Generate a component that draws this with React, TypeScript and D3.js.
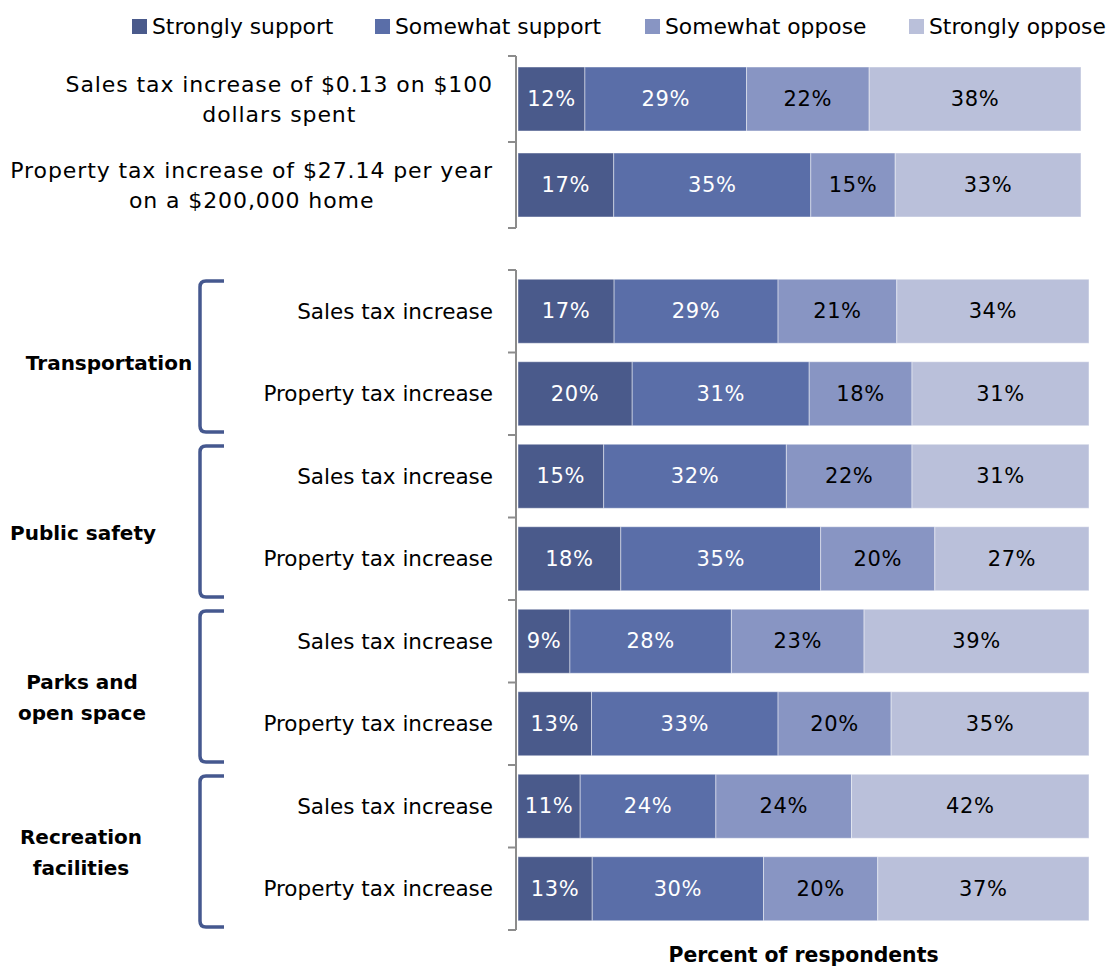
import * as d3 from "d3";
import { useLayoutEffect, useRef, useState } from "react";

// series, in stacking order
const seriesNames = ["Strongly support", "Somewhat support", "Somewhat oppose", "Strongly oppose"];
const seriesKeys = ["ss", "ws", "wo", "so"];
const seriesColors = ["#4a5a8b", "#5a6ea8", "#8895c3", "#bac0da"];
const labelColors = ["#ffffff", "#ffffff", "#000000", "#000000"];

// top panel: the two general tax questions
const generalLabels = [
  ["Sales tax increase of $0.13 on $100", "dollars spent"],
  ["Property tax increase of $27.14 per year", "on a $200,000 home"],
];
const generalStronglySupport = [12, 17];
const generalSomewhatSupport = [29, 35];
const generalSomewhatOppose = [22, 15];
const generalStronglyOppose = [38, 33];

// bottom panel: by purpose
const groups = [["Transportation"], ["Public safety"], ["Parks and", "open space"], ["Recreation", "facilities"]];
const rowLabels = ["Sales tax increase", "Property tax increase"];
const stronglySupport = [17, 20, 15, 18, 9, 13, 11, 13];
const somewhatSupport = [29, 31, 32, 35, 28, 33, 24, 30];
const somewhatOppose = [21, 18, 22, 20, 23, 20, 24, 20];
const stronglyOppose = [34, 31, 31, 27, 39, 35, 42, 37];

const axisTitle = "Percent of respondents";

const font = "DejaVu Sans, Verdana, sans-serif";

function buildRows(a: number[], b: number[], c: number[], d: number[]) {
  return a.map((_, i) => ({ i, ss: a[i], ws: b[i], wo: c[i], so: d[i] }));
}

const stack = d3.stack<any>().keys(seriesKeys).offset(d3.stackOffsetExpand);

function Bars({ rows, x, y }: { rows: any[]; x: d3.ScaleLinear<number, number>; y: d3.ScaleBand<number> }) {
  const layers = stack(rows);
  return (
    <g>
      {layers.map((layer, k) => (
        <g key={k} fill={seriesColors[k]}>
          {layer.map((seg, i) => {
            const x0 = x(seg[0]);
            const x1 = x(seg[1]);
            const yy = y(i)!;
            const v = rows[i][seriesKeys[k]];
            return (
              <g key={i}>
                <rect x={x0} y={yy} width={x1 - x0} height={y.bandwidth()} stroke="#ffffff" strokeOpacity={0.45} strokeWidth={1} />
                <text
                  x={(x0 + x1) / 2}
                  y={yy + y.bandwidth() / 2}
                  textAnchor="middle"
                  dominantBaseline="central"
                  fill={labelColors[k]}
                  fontSize={21}
                  letterSpacing={0.6}
                >
                  {v}%
                </text>
              </g>
            );
          })}
        </g>
      ))}
    </g>
  );
}

function CategoryAxis({ y, xPos }: { y: d3.ScaleBand<number>; xPos: number }) {
  const [r0, r1] = y.range();
  const n = y.domain().length;
  const ticks = d3.range(n + 1).map((k) => r0 + k * ((r1 - r0) / n));
  return (
    <g stroke="#8c8c8c" strokeWidth={2} fill="none">
      <line x1={xPos} x2={xPos} y1={r0} y2={r1} />
      {ticks.map((t, k) => (
        <line key={k} x1={xPos - 8} x2={xPos} y1={t} y2={t} />
      ))}
    </g>
  );
}

// two-line label, lines centred on each other, block right-aligned
function BlockLabel({ lines, right, cy }: { lines: string[]; right: number; cy: number }) {
  const ref = useRef<SVGTextElement>(null);
  const [w, setW] = useState(0);
  useLayoutEffect(() => {
    if (ref.current) setW(ref.current.getComputedTextLength());
  }, []);
  const center = right - w / 2;
  return (
    <g fontSize={22} letterSpacing={0.9} fill="#000">
      <text ref={ref} x={right} y={cy - 15} textAnchor="end" dominantBaseline="central">
        {lines[0]}
      </text>
      <text x={center} y={cy + 15} textAnchor="middle" dominantBaseline="central" opacity={w ? 1 : 0}>
        {lines[1]}
      </text>
    </g>
  );
}

export default function App() {
  const width = 1108;
  const height = 967;
  const barLeft = 518;
  const axisX = 516;
  const labelRight = 493;

  const x1 = d3.scaleLinear().domain([0, 1]).range([barLeft, 1081]);
  const x2 = d3.scaleLinear().domain([0, 1]).range([barLeft, 1089]);

  const y1 = d3.scaleBand<number>().domain(d3.range(2)).range([56, 228]).paddingInner(0.256).paddingOuter(0.128);
  const y2 = d3.scaleBand<number>().domain(d3.range(8)).range([270, 930]).paddingInner(0.224).paddingOuter(0.112);

  const rows1 = buildRows(generalStronglySupport, generalSomewhatSupport, generalSomewhatOppose, generalStronglyOppose);
  const rows2 = buildRows(stronglySupport, somewhatSupport, somewhatOppose, stronglyOppose);

  const legendX = [132, 375, 645, 909];
  const groupLabelX = [109, 83, 82, 81];
  const groupLabelDy = [10, 15, 15, 5];

  return (
    <svg
      width={width}
      height={height}
      style={{ position: "absolute", left: 0, top: 0, background: "#ffffff" }}
      fontFamily={font}
    >
      {/* legend */}
      <g>
        {seriesNames.map((name, k) => (
          <g key={k} transform={`translate(${legendX[k]},0)`}>
            <rect x={0} y={19} width={15} height={15} fill={seriesColors[k]} />
            <text x={20} y={26.5} dominantBaseline="central" fontSize={21.8} fill="#000">
              {name}
            </text>
          </g>
        ))}
      </g>

      {/* top panel */}
      <Bars rows={rows1} x={x1} y={y1} />
      <CategoryAxis y={y1} xPos={axisX} />
      {generalLabels.map((lines, i) => (
        <BlockLabel key={i} lines={lines} right={labelRight} cy={y1(i)! + y1.bandwidth() / 2} />
      ))}

      {/* bottom panel */}
      <Bars rows={rows2} x={x2} y={y2} />
      <CategoryAxis y={y2} xPos={axisX} />
      {rows2.map((_, i) => (
        <text
          key={i}
          x={labelRight}
          y={y2(i)! + y2.bandwidth() / 2}
          textAnchor="end"
          dominantBaseline="central"
          fontSize={21.5}
          fill="#000"
        >
          {rowLabels[i % 2]}
        </text>
      ))}

      {/* group brackets and labels */}
      {groups.map((lines, g) => {
        const step = y2.step();
        const y0 = y2.range()[0] + g * 2 * step;
        const yEnd = y0 + 2 * step;
        const top = y0 + 11;
        const bottom = yEnd - 3;
        const mid = (y0 + yEnd) / 2 + groupLabelDy[g];
        const r = 6;
        const bx = 200;
        const ex = 224;
        return (
          <g key={g}>
            <path
              d={`M${ex},${top} L${bx + r},${top} Q${bx},${top} ${bx},${top + r} L${bx},${bottom - r} Q${bx},${bottom} ${bx + r},${bottom} L${ex},${bottom}`}
              fill="none"
              stroke="#45588f"
              strokeWidth={3.5}
            />
            <text textAnchor="middle" fontSize={20} fontWeight="bold" fill="#000">
              {lines.map((l, j) => (
                <tspan key={j} x={groupLabelX[g]} y={mid + (j - (lines.length - 1) / 2) * 31} dominantBaseline="central">
                  {l}
                </tspan>
              ))}
            </text>
          </g>
        );
      })}

      {/* axis title */}
      <text x={(x2.range()[0] + x2.range()[1]) / 2} y={955} textAnchor="middle" dominantBaseline="central" fontSize={20.4} fontWeight="bold" fill="#000">
        {axisTitle}
      </text>
    </svg>
  );
}
